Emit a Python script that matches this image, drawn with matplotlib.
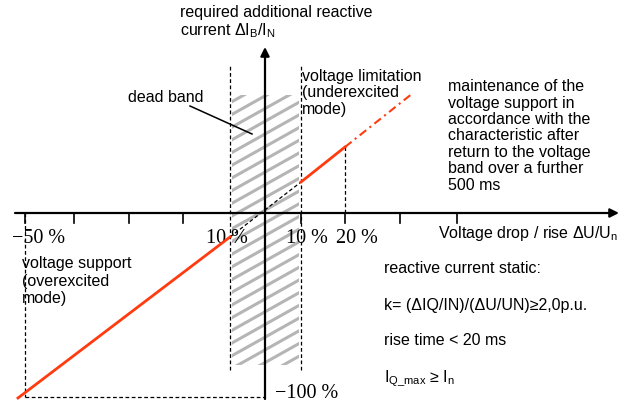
import numpy as np
import matplotlib.pyplot as plt
from matplotlib.patches import Rectangle

plt.rcParams["font.family"] = ["Liberation Sans", "DejaVu Sans"]
plt.rcParams["mathtext.fontset"] = "custom"
plt.rcParams["mathtext.rm"] = "Liberation Sans"
plt.rcParams["mathtext.it"] = "Liberation Sans:italic"

# Schematic coordinates (origin = axis crossing)
tick_x = [-240, -191, -136, -82, 36, 80, 135, 192]
tick_labels = ["\u221250 %", "10 %", "10 %", "20 %"]
tick_label_x = [-253, -59, 21, 71]

# characteristic: voltage support part, dead band part, limitation part, holding part
support_x = [-247, -35]
support_y = [-185, -24]
dead_x = [-35, 36]
dead_y = [-24, 31]
limit_x = [36, 80]
limit_y = [31, 66]
hold_x = [80, 148]
hold_y = [66, 120]

band_left, band_right = -35, 36
band_top, band_bottom = 118, -152
guide_top, guide_bottom = 148, -157
min_point = (-240, -184)

red = "#ff3b0f"
sans = 11.5
serif = ["Liberation Serif", "DejaVu Serif"]

fig = plt.figure(figsize=(6.27, 4.11), dpi=100)
ax = fig.add_axes([0, 0, 1, 1])
ax.set_xlim(-265, 362)
ax.set_ylim(-198, 213)
ax.axis("off")

# hatched dead band
clip = Rectangle((band_left + 2, band_bottom), band_right - band_left - 4,
                 band_top - band_bottom, fill=False, lw=0)
ax.add_patch(clip)
slope = 0.56
for c in np.arange(-220, 200, 12.7):
    xs = np.array([band_left - 5, band_right + 5])
    ln, = ax.plot(xs, c + slope * (xs - band_left), color="#b5b5b5", lw=2.2,
                  solid_capstyle="butt", zorder=1)
    ln.set_clip_path(clip)

# dashed guides
dash = dict(color="black", lw=0.9, ls=(0, (3, 2)), zorder=2)
ax.plot([band_left, band_left], [guide_bottom, guide_top], **dash)
ax.plot([band_right, band_right], [guide_bottom, guide_top], **dash)
ax.plot([min_point[0], min_point[0]], [0, min_point[1]], **dash)
ax.plot([min_point[0], 0], [min_point[1], min_point[1]], **dash)
ax.plot([limit_x[1], limit_x[1]], [0, limit_y[1]], **dash)
ax.plot(dead_x, dead_y, **dash)

# axes with arrows
ax.annotate("", xy=(354, 0), xytext=(-250, 0),
            arrowprops=dict(arrowstyle="-|>", lw=1.6, color="black",
                            mutation_scale=13, shrinkA=0, shrinkB=0), zorder=3)
ax.annotate("", xy=(0, 166), xytext=(0, -186),
            arrowprops=dict(arrowstyle="-|>", lw=1.6, color="black",
                            mutation_scale=13, shrinkA=0, shrinkB=0), zorder=3)
for tx in tick_x:
    ax.plot([tx, tx], [0, -10], color="black", lw=1.2, zorder=3)

# characteristic
ax.plot(support_x, support_y, color=red, lw=2, zorder=4)
ax.plot(limit_x, limit_y, color=red, lw=2, zorder=4)
ax.plot(hold_x, hold_y, color=red, lw=1.5, ls=(0, (4, 2, 1, 2)), zorder=4)

# dead band label
ax.plot([-75, -13], [107, 79], color="black", lw=1.1, zorder=4)
ax.text(-137, 116, "dead band", fontsize=sans, va="center", ha="left")

# tick labels
for lx, lab in zip(tick_label_x, tick_labels):
    ax.text(lx, -25, lab, fontsize=14.5, family=serif, va="center", ha="left")
ax.text(10, -180, "\u2212100 %", fontsize=14.5, family=serif, va="center", ha="left")

# texts
ax.text(-85, 200, "required additional reactive", fontsize=sans, va="center")
ax.text(-85, 182, r"current $\Delta$I$_\mathrm{B}$/I$_\mathrm{N}$", fontsize=sans,
        va="center")
ax.text(37, 120, "voltage limitation\n(underexcited\nmode)", fontsize=sans,
        va="center", linespacing=1.1)
ax.text(183, 77, "maintenance of the\nvoltage support in\naccordance with the\n"
        "characteristic after\nreturn to the voltage\nband over a further\n500 ms",
        fontsize=sans, va="center", linespacing=1.12)
ax.text(173, -20, r"Voltage drop / rise $\Delta$U/U$_\mathrm{n}$", fontsize=sans,
        va="center")
ax.text(-243, -68, "voltage support\n(overexcited\nmode)", fontsize=sans,
        va="center", linespacing=1.17)
ax.text(119, -55, "reactive current static:", fontsize=sans, va="center")
ax.text(119, -92, "k= (\u0394IQ/IN)/(\u0394U/UN)\u22652,0p.u.", fontsize=sans,
        va="center")
ax.text(119, -127, "rise time < 20 ms", fontsize=sans, va="center")
ax.text(119, -165, "I$_\\mathrm{Q\\_max}$ \u2265 I$_\\mathrm{n}$", fontsize=sans,
        va="center")

fig.savefig("out.png", dpi=100)
